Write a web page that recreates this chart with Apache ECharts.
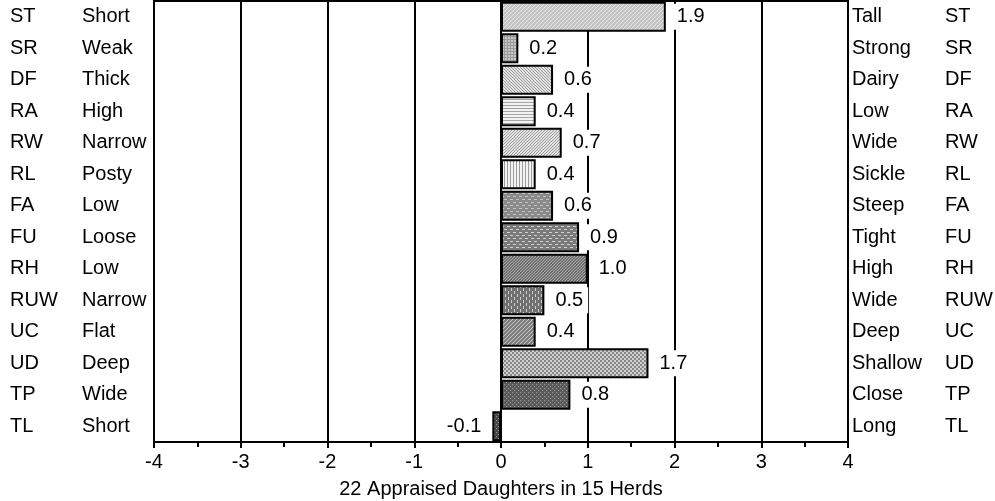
<!DOCTYPE html>
<html>
<head>
<meta charset="utf-8">
<script src="https://cdn.jsdelivr.net/npm/echarts@6/dist/echarts.min.js"></script>
<style>
  html, body { margin: 0; padding: 0; background: #fff; }
  #chart { width: 995px; height: 501px; }
</style>
</head>
<body>
<div id="chart"></div>
<script>
const codes = ['ST', 'SR', 'DF', 'RA', 'RW', 'RL', 'FA', 'FU', 'RH', 'RUW', 'UC', 'UD', 'TP', 'TL'];
const lowLabels = ['Short', 'Weak', 'Thick', 'High', 'Narrow', 'Posty', 'Low', 'Loose', 'Low', 'Narrow', 'Flat', 'Deep', 'Wide', 'Short'];
const highLabels = ['Tall', 'Strong', 'Dairy', 'Low', 'Wide', 'Sickle', 'Steep', 'Tight', 'High', 'Wide', 'Deep', 'Shallow', 'Close', 'Long'];
const values = [1.9, 0.2, 0.6, 0.4, 0.7, 0.4, 0.6, 0.9, 1.0, 0.5, 0.4, 1.7, 0.8, -0.1];
const xTicks = [-4, -3, -2, -1, 0, 1, 2, 3, 4];
const axisTitle = '22 Appraised Daughters in 15 Herds';

const FONT = '"Liberation Sans", Arial, sans-serif';
const FS = 20;

// small canvas tiles used as hatch fills
function tile(size, bg, draw) {
  const c = document.createElement('canvas');
  c.width = size;
  c.height = size;
  const ctx = c.getContext('2d');
  ctx.fillStyle = bg;
  ctx.fillRect(0, 0, size, size);
  draw(ctx, size);
  return { image: c, repeat: 'repeat' };
}
function diagUp(bg, fg, size) {
  return tile(size, bg, (ctx, s) => {
    ctx.fillStyle = fg;
    for (let i = 0; i < s; i++) ctx.fillRect(i, s - 1 - i, 1, 1);
  });
}
function diagDown(bg, fg, size) {
  return tile(size, bg, (ctx, s) => {
    ctx.fillStyle = fg;
    for (let i = 0; i < s; i++) ctx.fillRect(i, i, 1, 1);
  });
}
function hLines(bg, fg, size) {
  return tile(size, bg, (ctx, s) => { ctx.fillStyle = fg; ctx.fillRect(0, 0, s, 1); });
}
function vLines(bg, fg, size) {
  return tile(size, bg, (ctx, s) => { ctx.fillStyle = fg; ctx.fillRect(0, 0, 1, s); });
}
function grid(bg, fg, size) {
  return tile(size, bg, (ctx, s) => {
    ctx.fillStyle = fg;
    ctx.fillRect(0, 0, s, 1);
    ctx.fillRect(0, 0, 1, s);
  });
}
function hDash(bg, fg) {
  return tile(6, bg, (ctx) => {
    ctx.fillStyle = fg;
    ctx.fillRect(0, 1, 3, 1);
    ctx.fillRect(3, 4, 3, 1);
  });
}
function vDash(bg, fg) {
  return tile(6, bg, (ctx) => {
    ctx.fillStyle = fg;
    ctx.fillRect(1, 0, 1, 3);
    ctx.fillRect(4, 3, 1, 3);
  });
}
function checker(a, b) {
  return tile(4, a, (ctx) => {
    ctx.fillStyle = b;
    ctx.fillRect(0, 0, 2, 2);
    ctx.fillRect(2, 2, 2, 2);
  });
}
function dots(bg, fg) {
  return tile(4, bg, (ctx) => {
    ctx.fillStyle = fg;
    ctx.fillRect(0, 0, 1, 1);
    ctx.fillRect(2, 2, 1, 1);
  });
}

const fills = [
  diagUp('#c4c4c4', '#e6e6e6', 4),
  grid('#c8c8c8', '#9a9a9a', 3),
  diagDown('#e2e2e2', '#9c9c9c', 3),
  hLines('#f2f2f2', '#a4a4a4', 3),
  diagUp('#e2e2e2', '#9c9c9c', 3),
  vLines('#f4f4f4', '#9c9c9c', 3),
  hDash('#8a8a8a', '#c4c4c4'),
  hDash('#7a7a7a', '#d2d2d2'),
  diagUp('#707070', '#acacac', 3),
  vDash('#707070', '#cccccc'),
  diagUp('#808080', '#c4c4c4', 4),
  checker('#d0d0d0', '#888888'),
  dots('#5a5a5a', '#a4a4a4'),
  dots('#484848', '#969696')
];

const chart = echarts.init(document.getElementById('chart'));

const option = {
  animation: false,
  backgroundColor: '#fff',
  textStyle: { fontFamily: FONT },
  grid: {
    left: 154,
    right: 147,
    top: 1,
    bottom: 59,
    outerBoundsMode: 'none',
    show: true,
    borderColor: '#000',
    borderWidth: 2,
  },
  xAxis: {
    type: 'value',
    min: xTicks[0],
    max: xTicks[xTicks.length - 1],
    interval: 1,
    name: axisTitle,
    nameLocation: 'middle',
    nameGap: 37,
    nameTextStyle: { color: '#000', fontSize: FS, fontFamily: FONT },
    axisLine: { show: true, lineStyle: { color: '#000', width: 2 } },
    axisTick: { show: true, length: 6, lineStyle: { color: '#000', width: 2 } },
    minorTick: { show: true, splitNumber: 2, length: 5, lineStyle: { color: '#000', width: 2 } },
    splitLine: { show: true, lineStyle: { color: '#000', width: 2 } },
    axisLabel: { color: '#000', fontSize: FS, margin: 10, fontFamily: FONT },
  },
  yAxis: [
    {
      type: 'category',
      position: 'left',
      inverse: true,
      data: codes,
      axisLine: { show: true, lineStyle: { color: '#000', width: 2 } },
      axisTick: { show: false },
      axisLabel: {
        align: 'left',
        margin: 144,
        formatter: (v, i) => '{c|' + v + '}{d|' + lowLabels[i] + '}',
        rich: {
          c: { width: 72, fontSize: FS, color: '#000', fontFamily: FONT },
          d: { fontSize: FS, color: '#000', fontFamily: FONT },
        },
      },
    },
    {
      type: 'category',
      position: 'right',
      inverse: true,
      data: codes,
      axisLine: { show: true, lineStyle: { color: '#000', width: 2 } },
      axisTick: { show: false },
      axisLabel: {
        align: 'left',
        margin: 4,
        formatter: (v, i) => '{d|' + highLabels[i] + '}{c|' + v + '}',
        rich: {
          d: { width: 93, fontSize: FS, color: '#000', fontFamily: FONT },
          c: { fontSize: FS, color: '#000', fontFamily: FONT },
        },
      },
    },
  ],
  series: [
    {
      type: 'bar',
      yAxisIndex: 0,
      barCategoryGap: '4%',
      data: values.map((v, i) => ({
        value: v,
        itemStyle: { color: fills[i] },
        label: { position: v < 0 ? 'left' : 'right' },
      })),
      itemStyle: { borderColor: '#000', borderWidth: 2 },
      label: {
        show: true,
        distance: 6,
        color: '#000',
        fontSize: FS,
        fontFamily: FONT,
        backgroundColor: '#fff',
        padding: [3, 5],
        formatter: (p) => p.value.toFixed(1),
      },
    },
  ],
};

chart.setOption(option);
</script>
</body>
</html>
